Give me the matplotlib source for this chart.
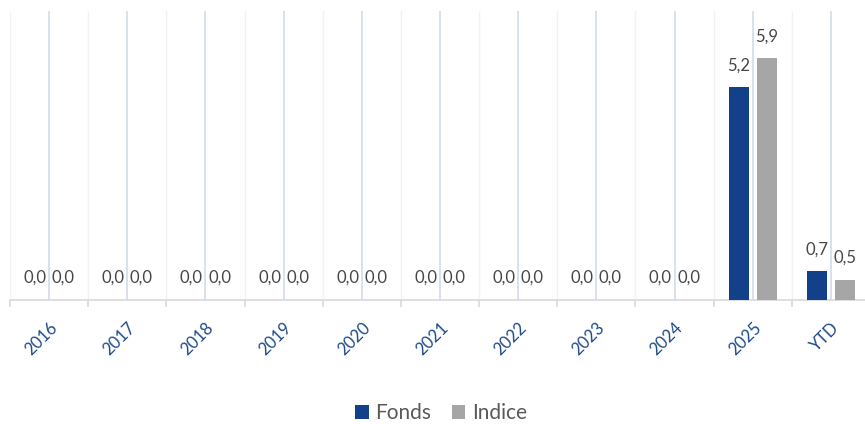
import matplotlib.pyplot as plt
import matplotlib.transforms as mtransforms
import numpy as np
from matplotlib.ticker import FixedLocator

categories = ["2016", "2017", "2018", "2019", "2020", "2021", "2022", "2023", "2024", "2025", "YTD"]
fonds = [0.0, 0.0, 0.0, 0.0, 0.0, 0.0, 0.0, 0.0, 0.0, 5.2, 0.7]
indice = [0.0, 0.0, 0.0, 0.0, 0.0, 0.0, 0.0, 0.0, 0.0, 5.9, 0.5]

FONDS_COLOR = "#12418A"
INDICE_COLOR = "#A6A6A6"

plt.rcParams["font.family"] = ["Lato", "DejaVu Sans"]

fig = plt.figure(figsize=(8.65, 4.24), dpi=100)
# plot area runs slightly past the right edge of the figure
ax = fig.add_axes([10 / 865, 124 / 424, 860 / 865, 289 / 424])

x = np.arange(len(categories))
width = 0.256
offset = 0.18

b1 = ax.bar(x - offset, fonds, width, color=FONDS_COLOR, label="Fonds", zorder=3)
b2 = ax.bar(x + offset, indice, width, color=INDICE_COLOR, label="Indice", zorder=3)

for bars, values in ((b1, fonds), (b2, indice)):
    for rect, v in zip(bars, values):
        ax.annotate(f"{v:.1f}".replace(".", ","),
                    (rect.get_x() + rect.get_width() / 2, v),
                    xytext=(0, 10), textcoords="offset points",
                    ha="center", va="bottom", fontsize=12, color="#474747")

ax.set_xlim(-0.5, len(categories) - 0.5)
ax.set_ylim(0, 7.06)

# major gridlines at category centres, faint ones at the boundaries
ax.set_xticks(x)
ax.set_xticklabels(categories, rotation=45, ha="right", rotation_mode="anchor",
                   color="#1F4A8A", fontsize=12)
shift = mtransforms.ScaledTranslation(6 / 100, 0, fig.dpi_scale_trans)
for lbl in ax.get_xticklabels():
    lbl.set_transform(lbl.get_transform() + shift)
ax.xaxis.set_minor_locator(FixedLocator(np.arange(-0.5, len(categories), 1)))
ax.grid(axis="x", which="major", color="#D5DEEA", linewidth=1.3, zorder=0)
ax.grid(axis="x", which="minor", color="#F0F2F5", linewidth=1.0, zorder=0)
ax.tick_params(axis="x", which="major", length=0, pad=14)
ax.tick_params(axis="x", which="minor", length=5, color="#D9D9D9", width=1.2)
ax.set_yticks([])

for side in ("top", "right", "left"):
    ax.spines[side].set_visible(False)
ax.spines["bottom"].set_color("#D9D9D9")
ax.spines["bottom"].set_linewidth(1.2)

fig.legend(handles=[b1, b2], labels=["Fonds", "Indice"], loc="center",
           bbox_to_anchor=(441 / 865, 11 / 424), ncol=2, frameon=False, fontsize=15,
           handlelength=0.65, handleheight=0.65, handletextpad=0.3, columnspacing=1.0,
           labelcolor="#595959")

fig.savefig("out.png", dpi=100)
